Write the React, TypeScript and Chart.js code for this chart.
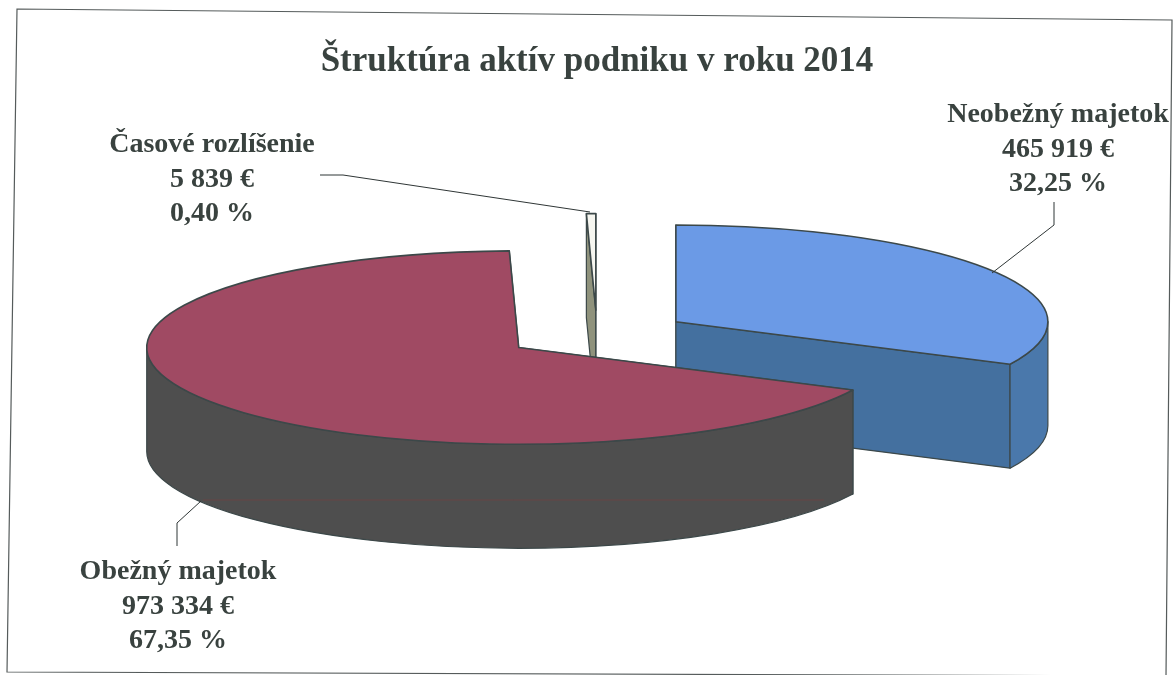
import React, { useEffect, useRef } from "react";
import { Chart, registerables } from "chart.js";

Chart.register(...registerables);

const titleText = "Štruktúra aktív podniku v roku 2014";
const categories = ["Neobežný majetok", "Obežný majetok", "Časové rozlíšenie"];
const amounts = [465919, 973334, 5839];
const amountLabels = ["465 919 €", "973 334 €", "5 839 €"];
const percentLabels = ["32,25 %", "67,35 %", "0,40 %"];
const topColors = ["#6b9ae6", "#a04a63", "#f6f6f0"];
const faceColors = ["#44709f", "#4e4e4e", "#8f927c"];
const rimColors = ["#4a78ab", "#4e4e4e", "#8f927c"];

const EDGE = "#3c4849";
const INK = "#39423f";
const FONT = '"Liberation Serif", serif';
const RADIUS = 372;
const SQUASH = 0.26;
const DEPTH = 104;
const EXPLODE = 93;
const WALL_ORDER = [0, 2, 1];
const LABEL_POS = [
  { x: 1058, y: 122 },
  { x: 178, y: 579 },
  { x: 212, y: 152 },
];
const LEADERS = [
  [[1054, 202], [1054, 225], [992, 273]],
  [[177, 546], [177, 523], [201, 501]],
  [[320, 175], [343, 175], [590, 212]],
];
const FRAME = [[17, 9], [1172, 20], [1166, 676], [7, 672]];

function centerY(chart: any) {
  return (chart.chartArea.top + chart.chartArea.bottom) / 2;
}

function geom(chart: any, el: any) {
  const cy0 = centerY(chart);
  return {
    cx: el.x,
    cy: cy0 + (el.y - cy0) * SQUASH,
    rx: el.outerRadius,
    ry: el.outerRadius * SQUASH,
    s: el.startAngle,
    e: el.endAngle,
  };
}

const pie3d = {
  id: "pie3d",
  beforeDraw(chart: any) {
    const ctx = chart.ctx;
    ctx.save();
    ctx.fillStyle = "#ffffff";
    ctx.fillRect(0, 0, chart.width, chart.height);
    ctx.strokeStyle = "#555b5b";
    ctx.lineWidth = 1.2;
    ctx.beginPath();
    FRAME.forEach(([x, y], i) => (i ? ctx.lineTo(x, y) : ctx.moveTo(x, y)));
    ctx.closePath();
    ctx.stroke();
    ctx.restore();
  },
  afterDatasetsUpdate(chart: any) {
    const arcs = chart.getDatasetMeta(0).data;
    const cx0 = (chart.chartArea.left + chart.chartArea.right) / 2;
    const cy0 = centerY(chart);
    arcs.forEach((el: any) => {
      const mid = (el.startAngle + el.endAngle) / 2;
      el.x = cx0 + Math.cos(mid) * EXPLODE;
      el.y = cy0 + Math.sin(mid) * EXPLODE;
    });
  },
  beforeDatasetsDraw(chart: any) {
    const ctx = chart.ctx;
    const arcs = chart.getDatasetMeta(0).data;
    ctx.save();
    ctx.strokeStyle = EDGE;
    ctx.lineWidth = 1.2;
    ctx.lineJoin = "round";
    WALL_ORDER.forEach((i) => {
      const { cx, cy, rx, ry, s, e } = geom(chart, arcs[i]);
      [s, e].forEach((a) => {
        const px = cx + rx * Math.cos(a);
        const py = cy + ry * Math.sin(a);
        ctx.beginPath();
        ctx.moveTo(cx, cy);
        ctx.lineTo(px, py);
        ctx.lineTo(px, py + DEPTH);
        ctx.lineTo(cx, cy + DEPTH);
        ctx.closePath();
        ctx.fillStyle = faceColors[i];
        ctx.fill();
        ctx.stroke();
      });
      const a0 = Math.max(s, 0);
      const a1 = Math.min(e, Math.PI);
      if (a1 > a0) {
        ctx.beginPath();
        ctx.ellipse(cx, cy, rx, ry, 0, a0, a1);
        ctx.ellipse(cx, cy + DEPTH, rx, ry, 0, a1, a0, true);
        ctx.closePath();
        ctx.fillStyle = rimColors[i];
        ctx.fill();
        ctx.stroke();
      }
      if (i === 1) {
        ctx.save();
        ctx.strokeStyle = "rgba(125,62,62,0.55)";
        ctx.lineWidth = 1;
        ctx.beginPath();
        ctx.moveTo(203, 500);
        ctx.lineTo(824, 500);
        ctx.stroke();
        ctx.restore();
      }
    });
    ctx.restore();
    const cy0 = centerY(chart);
    const cx0 = chart.width / 2;
    ctx.save();
    ctx.translate(cx0, cy0);
    ctx.scale(1, SQUASH);
    ctx.translate(-cx0, -cy0);
  },
  afterDatasetsDraw(chart: any) {
    const ctx = chart.ctx;
    ctx.restore();
    const arcs = chart.getDatasetMeta(0).data;
    ctx.save();
    ctx.strokeStyle = EDGE;
    ctx.lineWidth = 1.6;
    ctx.lineJoin = "round";
    arcs.forEach((el: any) => {
      const { cx, cy, rx, ry, s, e } = geom(chart, el);
      ctx.beginPath();
      ctx.moveTo(cx, cy);
      ctx.ellipse(cx, cy, rx, ry, 0, s, e);
      ctx.closePath();
      ctx.stroke();
    });
    ctx.strokeStyle = "#2f3636";
    ctx.lineWidth = 1;
    LEADERS.forEach((pts) => {
      ctx.beginPath();
      pts.forEach(([x, y], i) => (i ? ctx.lineTo(x, y) : ctx.moveTo(x, y)));
      ctx.stroke();
    });
    ctx.fillStyle = INK;
    ctx.font = `bold 28px ${FONT}`;
    ctx.textAlign = "center";
    ctx.textBaseline = "alphabetic";
    categories.forEach((name, i) => {
      const { x, y } = LABEL_POS[i];
      ctx.fillText(name, x, y);
      ctx.fillText(amountLabels[i], x, y + 35);
      ctx.fillText(percentLabels[i], x, y + 69);
    });
    ctx.restore();
  },
};

export default function App() {
  const ref = useRef<HTMLCanvasElement>(null);
  useEffect(() => {
    const chart = new Chart(ref.current as HTMLCanvasElement, {
      type: "pie",
      data: {
        labels: categories,
        datasets: [
          {
            data: amounts,
            backgroundColor: topColors,
            borderWidth: 0,
            radius: RADIUS,
            clip: false,
          } as any,
        ],
      },
      options: {
        responsive: false,
        animation: false,
        events: [],
        layout: { padding: { left: 21, right: 0, top: 0, bottom: 89 } },
        plugins: {
          legend: { display: false },
          tooltip: { enabled: false },
          title: {
            display: true,
            text: titleText,
            color: INK,
            font: { family: FONT, size: 35, weight: "bold" },
            padding: { top: 41, bottom: 0 },
          },
        },
      },
      plugins: [pie3d],
    } as any);
    return () => chart.destroy();
  }, []);
  return (
    <canvas
      ref={ref}
      width={1173}
      height={675}
      style={{ position: "absolute", left: 0, top: 0, display: "block" }}
    />
  );
}
